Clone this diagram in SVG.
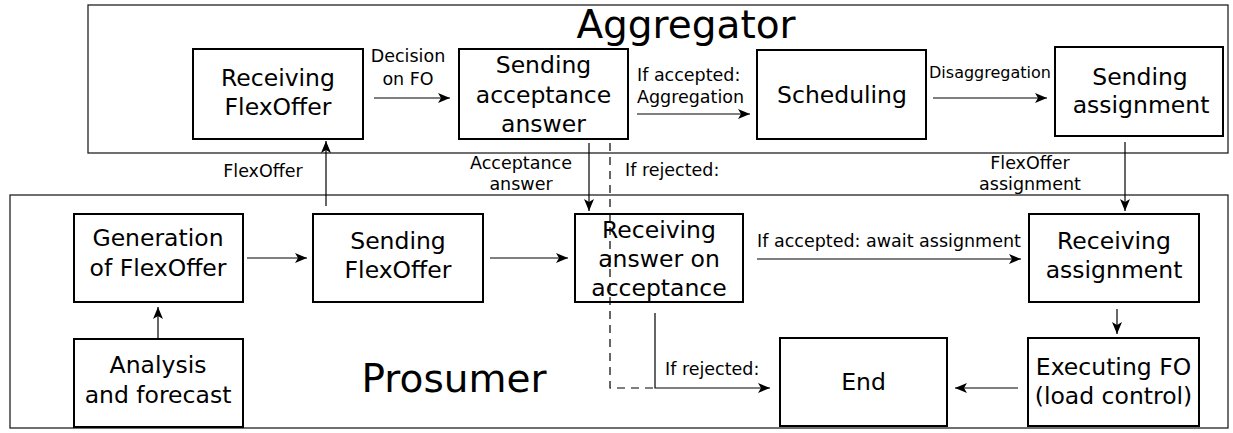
<svg xmlns="http://www.w3.org/2000/svg" width="1233" height="433" viewBox="0 0 1233 433">
<style>
.cont{fill:#fff;stroke:#222;stroke-width:1.3}
.box{fill:#fff;stroke:#000;stroke-width:2}
.t{font-family:"DejaVu Sans",sans-serif;font-size:23.5px;text-anchor:middle;fill:#000}
.l{font-family:"DejaVu Sans",sans-serif;font-size:17.5px;fill:#000}
.title{font-family:"DejaVu Sans",sans-serif;font-size:39px;text-anchor:middle;fill:#000}
.c{fill:none;stroke:#000;stroke-width:1.2}
.d{fill:none;stroke:#000;stroke-width:1.2;stroke-dasharray:8,6}
</style>
<defs>
<marker id="ah" viewBox="-13 -6 15 12" refX="0" refY="0" markerWidth="15" markerHeight="12" markerUnits="userSpaceOnUse" orient="auto">
<path d="M0,0 L-12,-5 L-9,0 L-12,5 Z" fill="#000"/>
</marker>
</defs>
<g id="aggregator">
<rect class="cont" x="88" y="5" width="1140" height="148"/>
<text class="title" x="686" y="38">Aggregator</text>
</g>
<g id="prosumer">
<rect class="cont" x="10" y="195" width="1218" height="233"/>
<text class="title" x="454" y="392">Prosumer</text>
</g>
<g id="receiving-flexoffer">
<rect class="box" x="193" y="49" width="170" height="90"/>
<text class="t" x="278" y="86">Receiving</text>
<text class="t" x="278" y="115">FlexOffer</text>
</g>
<g id="sending-acceptance">
<rect class="box" x="459" y="49" width="169" height="90"/>
<text class="t" x="543.5" y="73">Sending</text>
<text class="t" x="543.5" y="103">acceptance</text>
<text class="t" x="543.5" y="132">answer</text>
</g>
<g id="scheduling">
<rect class="box" x="757" y="50" width="169" height="89"/>
<text class="t" x="842" y="103">Scheduling</text>
</g>
<g id="sending-assignment">
<rect class="box" x="1055" y="47" width="168" height="89"/>
<text class="t" x="1140" y="85">Sending</text>
<text class="t" x="1141" y="113">assignment</text>
</g>
<g id="generation">
<rect class="box" x="74" y="214" width="169" height="88"/>
<text class="t" x="158" y="246">Generation</text>
<text class="t" x="158" y="276">of FlexOffer</text>
</g>
<g id="sending-flexoffer">
<rect class="box" x="313" y="214" width="170" height="88"/>
<text class="t" x="398" y="249">Sending</text>
<text class="t" x="398" y="278">FlexOffer</text>
</g>
<g id="receiving-answer">
<rect class="box" x="575" y="214" width="168" height="88"/>
<text class="t" x="659" y="238">Receiving</text>
<text class="t" x="659" y="267">answer on</text>
<text class="t" x="659" y="296">acceptance</text>
</g>
<g id="receiving-assignment">
<rect class="box" x="1029" y="214" width="170" height="88"/>
<text class="t" x="1114" y="249">Receiving</text>
<text class="t" x="1114" y="278">assignment</text>
</g>
<g id="analysis">
<rect class="box" x="74" y="339" width="169" height="88"/>
<text class="t" x="158" y="373">Analysis</text>
<text class="t" x="158" y="403">and forecast</text>
</g>
<g id="end">
<rect class="box" x="780" y="338" width="167" height="88"/>
<text class="t" x="863.5" y="390">End</text>
</g>
<g id="executing">
<rect class="box" x="1028" y="338" width="171" height="88"/>
<text class="t" x="1113.5" y="375">Executing FO</text>
<text class="t" x="1113.5" y="404">(load control)</text>
</g>
<g id="connectors">
<path class="c" d="M374,98 H450" marker-end="url(#ah)"/>
<path class="c" d="M637,114 H750" marker-end="url(#ah)"/>
<path class="c" d="M933,98 H1047" marker-end="url(#ah)"/>
<path class="c" d="M326,206 V141" marker-end="url(#ah)"/>
<path class="c" d="M589,143 V211" marker-end="url(#ah)"/>
<path class="d" d="M610,143 V388 H655"/>
<path class="c" d="M655,313 V388 H770" marker-end="url(#ah)"/>
<path class="c" d="M1125,142 V211" marker-end="url(#ah)"/>
<path class="c" d="M247,258 H307" marker-end="url(#ah)"/>
<path class="c" d="M490,258 H568" marker-end="url(#ah)"/>
<path class="c" d="M158,339 V307" marker-end="url(#ah)"/>
<path class="c" d="M757,259 H1021" marker-end="url(#ah)"/>
<path class="c" d="M1117,309 V334" marker-end="url(#ah)"/>
<path class="c" d="M1018,388 H955" marker-end="url(#ah)"/>
<text class="l" x="408" y="62" text-anchor="middle">Decision</text>
<text class="l" x="408" y="85" text-anchor="middle">on FO</text>
<text class="l" x="637" y="81">If accepted:</text>
<text class="l" x="637" y="103">Aggregation</text>
<text class="l" x="990" y="78" text-anchor="middle" style="font-size:16px">Disaggregation</text>
<text class="l" x="263" y="177" text-anchor="middle">FlexOffer</text>
<text class="l" x="521" y="169" text-anchor="middle">Acceptance</text>
<text class="l" x="521" y="190" text-anchor="middle">answer</text>
<text class="l" x="625" y="176">If rejected:</text>
<text class="l" x="1030" y="169" text-anchor="middle">FlexOffer</text>
<text class="l" x="1030" y="190" text-anchor="middle">assignment</text>
<text class="l" x="889" y="247" text-anchor="middle">If accepted: await assignment</text>
<text class="l" x="665" y="375">If rejected:</text>
</g>
</svg>
